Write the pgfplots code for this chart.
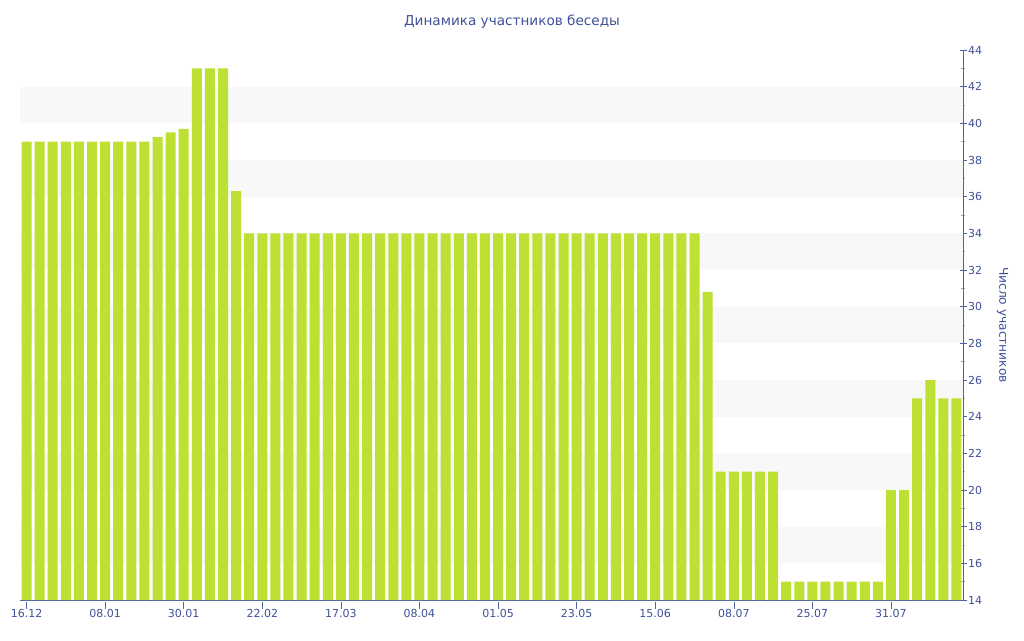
\documentclass[border=0pt]{standalone}
\usepackage{pgfplots}
\pgfplotsset{compat=1.18}
\usepackage{fontspec}
\setmainfont{DejaVu Sans}
\definecolor{barc}{RGB}{189,225,51}
\definecolor{axc}{RGB}{78,96,166}
\definecolor{txtc}{RGB}{62,80,150}
\definecolor{band}{RGB}{248,248,248}
\begin{document}
\begin{tikzpicture}[x=1pt,y=1pt]
\path (0,0) rectangle (1024,640);
\node[text=txtc, font=\fontsize{13.6}{16}\selectfont] at (512,618) {Динамика участников беседы};
\begin{axis}[
  at={(20pt,40pt)}, anchor=south west,
  scale only axis, width=943pt, height=550pt,
  xmin=-0.5, xmax=71.5, ymin=14, ymax=44,
  axis x line*=bottom, axis y line*=right,
  axis line style={axc, line width=0.8pt},
  xtick={0,6,...,66},
  xticklabels={16.12,08.01,30.01,22.02,17.03,08.04,01.05,23.05,15.06,08.07,25.07,31.07},
  ytick={14,16,...,44},
  minor y tick num=1,
  tick style={axc, line width=0.6pt},
  major tick length=7pt,
  minor tick length=4pt,
  minor tick style={gray!70, line width=0.6pt},
  x tick style={yshift=-2pt},
  tick align=center,
  x tick label style={text=txtc, font=\fontsize{11}{13}\selectfont, yshift=1pt},
  y tick label style={text=txtc, font=\fontsize{11}{13}\selectfont, xshift=-2pt},
  /pgf/number format/assume math mode=true,
  ylabel={Число участников},
  ylabel style={text=txtc, font=\fontsize{12.2}{14}\selectfont, rotate=180, yshift=8pt},
  ybar, bar width=10pt,
]
\pgfplotsinvokeforeach{16,20,...,40}{
  \fill[band] (axis cs:-0.5,#1) rectangle (axis cs:71.5,#1+2);
}
\addplot[fill=barc, draw=none] coordinates {
(0,39)(1,39)(2,39)(3,39)(4,39)(5,39)(6,39)(7,39)(8,39)(9,39)
(10,39.25)(11,39.5)(12,39.7)(13,43)(14,43)(15,43)(16,36.3)
(17,34)(18,34)(19,34)(20,34)(21,34)(22,34)(23,34)(24,34)(25,34)(26,34)
(27,34)(28,34)(29,34)(30,34)(31,34)(32,34)(33,34)(34,34)(35,34)(36,34)
(37,34)(38,34)(39,34)(40,34)(41,34)(42,34)(43,34)(44,34)(45,34)(46,34)
(47,34)(48,34)(49,34)(50,34)(51,34)
(52,30.8)
(53,21)(54,21)(55,21)(56,21)(57,21)
(58,15)(59,15)(60,15)(61,15)(62,15)(63,15)(64,15)(65,15)
(66,20)(67,20)(68,25)(69,26)(70,25)(71,25)
};
\end{axis}
\end{tikzpicture}
\end{document}
